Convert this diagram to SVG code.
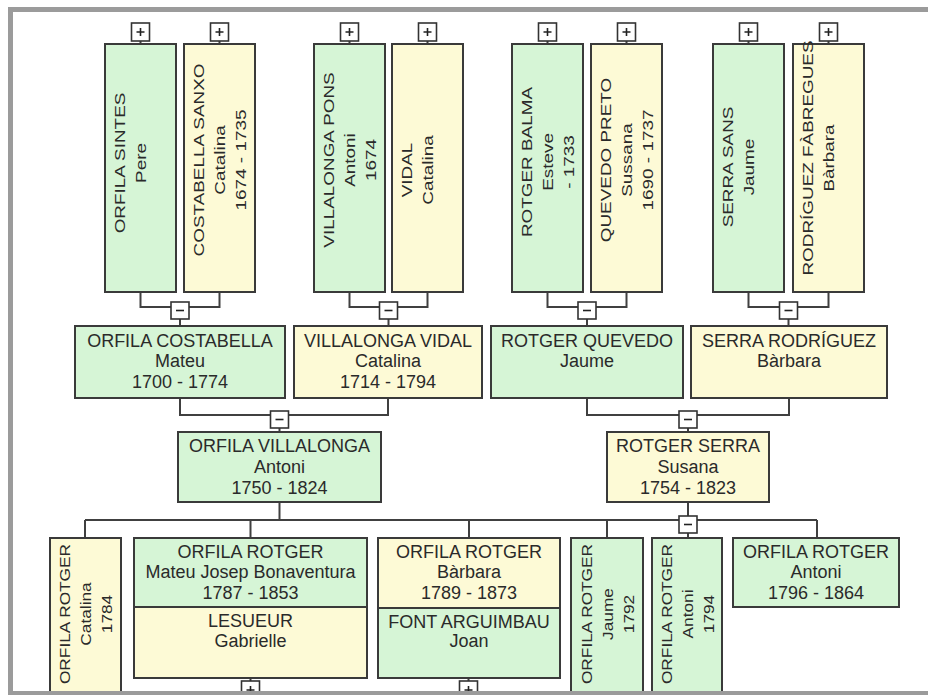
<svg xmlns="http://www.w3.org/2000/svg" width="928" height="695" viewBox="0 0 928 695">
<defs>
<style>
.m{fill:#d6f5d6;stroke:#3a3a3a;stroke-width:2}
.f{fill:#fdfad6;stroke:#3a3a3a;stroke-width:2}
.c{fill:none;stroke:#404040;stroke-width:2}
.t{font-family:"Liberation Sans",Arial,sans-serif;font-size:18px;fill:#2a2a2a;text-anchor:middle}
.btn{fill:#ffffff;stroke:#333333;stroke-width:1.6}
.sg{stroke:#222222;stroke-width:1.6;fill:none}
</style>
<g id="pl"><rect class="btn" x="0" y="0" width="18" height="18"/><path class="sg" d="M5 9H13M9 5V13"/></g>
<g id="mi"><rect class="btn" x="0" y="0" width="18" height="17"/><path class="sg" d="M5 8.5H13"/></g>
</defs>
<rect x="0" y="0" width="928" height="695" fill="#ffffff"/>

<g id="connectors">
<path class="c" d="M140.5 41V44M219.5 41V44M349.5 41V44M427.5 41V44M547.5 41V44M626.5 41V44M748.5 41V44M828.5 41V44"/>
<path class="c" d="M140.5 292V307H219.5V292M180 307V326"/>
<path class="c" d="M349.5 292V307H427.5V292M388.5 307V326"/>
<path class="c" d="M547.5 292V307H626.5V292M587 307V326"/>
<path class="c" d="M748.5 292V307H828.5V292M788.5 307V326"/>
<path class="c" d="M180 398V415H388V398M279.5 415V432"/>
<path class="c" d="M587 398V415H789V398M688 415V432"/>
<path class="c" d="M279.5 502V520M688 502V538M85 520H817M85 520V538M250.5 520V538M469 520V538M607 520V538M817 520V538"/>
<path class="c" d="M250.5 678V681M468.5 678V681"/>
</g>

<g id="n-orfila-sintes">
<rect class="m" x="105" y="44" width="71" height="248"/>
<g transform="translate(140.5,163) rotate(-90) scale(1.05,0.85)"><text class="t" y="-18.2">ORFILA SINTES</text><text class="t" y="6.5">Pere</text></g>
</g>
<g id="n-costabella-sanxo">
<rect class="f" x="184" y="44" width="71" height="248"/>
<g transform="translate(219.5,160) rotate(-90) scale(1.05,0.85)"><text class="t" y="-18.2">COSTABELLA SANXO</text><text class="t" y="6.5">Catalina</text><text class="t" y="31.2">1674 - 1735</text></g>
</g>
<g id="n-villalonga-pons">
<rect class="m" x="314" y="44" width="71" height="248"/>
<g transform="translate(349.5,160) rotate(-90) scale(1.05,0.85)"><text class="t" y="-18.2">VILLALONGA PONS</text><text class="t" y="6.5">Antoni</text><text class="t" y="31.2">1674</text></g>
</g>
<g id="n-vidal">
<rect class="f" x="392" y="44" width="71" height="248"/>
<g transform="translate(427.5,170) rotate(-90) scale(1.05,0.85)"><text class="t" y="-18.2">VIDAL</text><text class="t" y="6.5">Catalina</text></g>
</g>
<g id="n-rotger-balma">
<rect class="m" x="512" y="44" width="71" height="248"/>
<g transform="translate(547.5,162) rotate(-90) scale(1.05,0.85)"><text class="t" y="-18.2">ROTGER BALMA</text><text class="t" y="6.5">Esteve</text><text class="t" y="31.2">- 1733</text></g>
</g>
<g id="n-quevedo-preto">
<rect class="f" x="591" y="44" width="71" height="248"/>
<g transform="translate(626.5,160) rotate(-90) scale(1.05,0.85)"><text class="t" y="-18.2">QUEVEDO PRETO</text><text class="t" y="6.5">Sussana</text><text class="t" y="31.2">1690 - 1737</text></g>
</g>
<g id="n-serra-sans">
<rect class="m" x="713" y="44" width="71" height="248"/>
<g transform="translate(748.5,167) rotate(-90) scale(1.05,0.85)"><text class="t" y="-18.2">SERRA SANS</text><text class="t" y="6.5">Jaume</text></g>
</g>
<g id="n-rodriguez-fabregues">
<rect class="f" x="793" y="44" width="71" height="248"/>
<g transform="translate(828.5,158) rotate(-90) scale(1.05,0.85)"><text class="t" y="-18.2">RODRÍGUEZ FÀBREGUES</text><text class="t" y="6.5">Bàrbara</text></g>
</g>

<g id="n-orfila-costabella">
<rect class="m" x="75" y="326" width="210" height="72"/>
<text class="t" x="180" y="347">ORFILA COSTABELLA</text><text class="t" x="180" y="367">Mateu</text><text class="t" x="180" y="388">1700 - 1774</text>
</g>
<g id="n-villalonga-vidal">
<rect class="f" x="294" y="326" width="188" height="72"/>
<text class="t" x="388" y="347">VILLALONGA VIDAL</text><text class="t" x="388" y="367">Catalina</text><text class="t" x="388" y="388">1714 - 1794</text>
</g>
<g id="n-rotger-quevedo">
<rect class="m" x="491" y="326" width="192" height="72"/>
<text class="t" x="587" y="347">ROTGER QUEVEDO</text><text class="t" x="587" y="367">Jaume</text>
</g>
<g id="n-serra-rodriguez">
<rect class="f" x="691" y="326" width="196" height="72"/>
<text class="t" x="789" y="347">SERRA RODRÍGUEZ</text><text class="t" x="789" y="367">Bàrbara</text>
</g>

<g id="n-orfila-villalonga">
<rect class="m" x="178" y="432" width="203" height="70"/>
<text class="t" x="279.5" y="452">ORFILA VILLALONGA</text><text class="t" x="279.5" y="473">Antoni</text><text class="t" x="279.5" y="494">1750 - 1824</text>
</g>
<g id="n-rotger-serra">
<rect class="f" x="607" y="432" width="162" height="70"/>
<text class="t" x="688" y="452">ROTGER SERRA</text><text class="t" x="688" y="473">Susana</text><text class="t" x="688" y="494">1754 - 1823</text>
</g>

<g id="n-catalina">
<rect class="f" x="50" y="538" width="71" height="180"/>
<g transform="translate(85.5,614) rotate(-90) scale(0.96,0.85)"><text class="t" y="-18.2">ORFILA ROTGER</text><text class="t" y="6.5">Catalina</text><text class="t" y="31.2">1784</text></g>
</g>
<g id="n-mateu">
<rect class="m" x="134" y="538" width="233" height="69"/>
<rect class="f" x="134" y="607" width="233" height="71"/>
<text class="t" x="250.5" y="558">ORFILA ROTGER</text><text class="t" x="250.5" y="578">Mateu Josep Bonaventura</text><text class="t" x="250.5" y="599">1787 - 1853</text>
<text class="t" x="250.5" y="627">LESUEUR</text><text class="t" x="250.5" y="647">Gabrielle</text>
</g>
<g id="n-barbara">
<rect class="f" x="378" y="538" width="182" height="70"/>
<rect class="m" x="378" y="608" width="182" height="70"/>
<text class="t" x="469" y="558">ORFILA ROTGER</text><text class="t" x="469" y="578">Bàrbara</text><text class="t" x="469" y="599">1789 - 1873</text>
<text class="t" x="469" y="628">FONT ARGUIMBAU</text><text class="t" x="469" y="647">Joan</text>
</g>
<g id="n-jaume">
<rect class="m" x="571" y="538" width="72" height="180"/>
<g transform="translate(607,614) rotate(-90) scale(0.96,0.85)"><text class="t" y="-18.2">ORFILA ROTGER</text><text class="t" y="6.5">Jaume</text><text class="t" y="31.2">1792</text></g>
</g>
<g id="n-antoni-1794">
<rect class="m" x="652" y="538" width="70" height="180"/>
<g transform="translate(687,614) rotate(-90) scale(0.96,0.85)"><text class="t" y="-18.2">ORFILA ROTGER</text><text class="t" y="6.5">Antoni</text><text class="t" y="31.2">1794</text></g>
</g>
<g id="n-antoni-1796">
<rect class="m" x="733" y="538" width="166" height="69"/>
<text class="t" x="816" y="558">ORFILA ROTGER</text><text class="t" x="816" y="578">Antoni</text><text class="t" x="816" y="599">1796 - 1864</text>
</g>

<g id="toggles">
<use href="#pl" x="131.5" y="23"/>
<use href="#pl" x="210.5" y="23"/>
<use href="#pl" x="340.5" y="23"/>
<use href="#pl" x="418.5" y="23"/>
<use href="#pl" x="538.5" y="23"/>
<use href="#pl" x="617.5" y="23"/>
<use href="#pl" x="739.5" y="23"/>
<use href="#pl" x="819.5" y="23"/>
<use href="#mi" x="171" y="302"/>
<use href="#mi" x="379.5" y="302"/>
<use href="#mi" x="578" y="302"/>
<use href="#mi" x="779.5" y="302"/>
<use href="#mi" x="270.5" y="411"/>
<use href="#mi" x="679" y="411"/>
<use href="#mi" x="679" y="516"/>
<use href="#pl" x="241.5" y="681"/>
<use href="#pl" x="459.5" y="681"/>
</g>

<rect id="frame" x="10.5" y="9.5" width="940" height="684" fill="none" stroke="#9b9b9b" stroke-width="5"/>
</svg>
